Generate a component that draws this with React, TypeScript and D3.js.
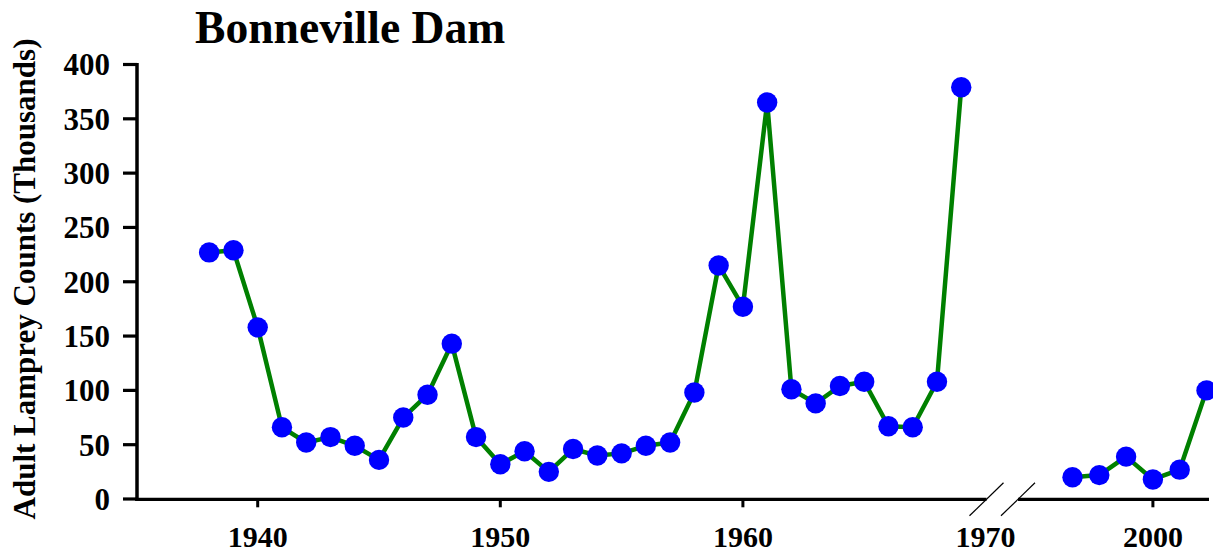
import React from "react";
import * as d3 from "d3";

const years1: number[] = [1938,1939,1940,1941,1942,1943,1944,1945,1946,1947,1948,1949,1950,1951,1952,1953,1954,1955,1956,1957,1958,1959,1960,1961,1962,1963,1964,1965,1966,1967,1968,1969];
const counts1: number[] = [227,229,158,66,52,57,49,36,75,96,143,57,32,44,25,46,40,42,49,52,98,215,177,365,101,88,104,108,67,66,108,379];
const years2: number[] = [1997,1998,1999,2000,2001,2002];
const counts2: number[] = [20,22,39,18,27,100];
const yTicks: number[] = [0,50,100,150,200,250,300,350,400];
const xTicks1: number[] = [1940,1950,1960];
const xLabels1: number[] = [1940,1950,1960,1970];
const xTicks2: number[] = [2000];

const W = 1213, H = 552;
const FONT = "'Liberation Serif', 'Times New Roman', serif";

export default function App() {
  const y = d3.scaleLinear().domain([0, 400]).range([499, 64.5]);
  const x1 = d3.scaleLinear().domain([1940, 1970]).range([257.7, 985.5]);
  const x2 = d3.scaleLinear().domain([1997, 2002]).range([1072.5, 1206.5]);

  const d1 = years1.map((yr, i) => ({ x: x1(yr), y: y(counts1[i]) }));
  const d2 = years2.map((yr, i) => ({ x: x2(yr), y: y(counts2[i]) }));
  const line = d3.line<{ x: number; y: number }>().x(d => d.x).y(d => d.y);

  const axisX = 137;
  const axisY = 499.3;
  const breakA = 986.5;
  const breakB = 1018;

  return (
    <svg width={W} height={H} style={{ position: "absolute", left: 0, top: 0, background: "#fff" }}>
      <text x={195} y={43} fontFamily={FONT} fontWeight="bold" fontSize={45.6} fill="#000">Bonneville Dam</text>
      <text transform={`translate(35,279) rotate(-90)`} textAnchor="middle" fontFamily={FONT} fontWeight="bold" fontSize={31} fill="#000">Adult Lamprey Counts (Thousands)</text>

      {/* y axis */}
      <line x1={axisX} x2={axisX} y1={63} y2={axisY + 1.6} stroke="#000" strokeWidth={3.5} />
      {yTicks.map(t => (
        <g key={t}>
          <line x1={123} x2={axisX} y1={y(t)} y2={y(t)} stroke="#000" strokeWidth={3.2} />
          <text x={110} y={y(t)} dy="0.35em" textAnchor="end" fontFamily={FONT} fontWeight="bold" fontSize={31} fill="#000">{t}</text>
        </g>
      ))}

      {/* x axis with break */}
      <line x1={axisX - 1.7} x2={breakA} y1={axisY} y2={axisY} stroke="#000" strokeWidth={3.3} />
      <line x1={breakB} x2={1209} y1={axisY} y2={axisY} stroke="#000" strokeWidth={3.3} />
      <line x1={breakA - 17} x2={breakA + 17} y1={axisY + 16.5} y2={axisY - 16.5} stroke="#000" strokeWidth={1.2} />
      <line x1={breakB - 17} x2={breakB + 17} y1={axisY + 16.5} y2={axisY - 16.5} stroke="#000" strokeWidth={1.2} />
      {xTicks1.map(t => (
        <line key={t} x1={x1(t)} x2={x1(t)} y1={axisY} y2={axisY + 8} stroke="#000" strokeWidth={3} />
      ))}
      {xTicks2.map(t => (
        <line key={t} x1={x2(t)} x2={x2(t)} y1={axisY} y2={axisY + 8} stroke="#000" strokeWidth={3} />
      ))}
      {xLabels1.map(t => (
        <text key={t} x={x1(t)} y={547} textAnchor="middle" fontFamily={FONT} fontWeight="bold" fontSize={30} fill="#000">{t}</text>
      ))}
      {xTicks2.map(t => (
        <text key={t} x={x2(t)} y={547} textAnchor="middle" fontFamily={FONT} fontWeight="bold" fontSize={30} fill="#000">{t}</text>
      ))}

      {/* data */}
      <path d={line(d1) || ""} fill="none" stroke="#008000" strokeWidth={4.5} strokeLinejoin="round" />
      <path d={line(d2) || ""} fill="none" stroke="#008000" strokeWidth={4.5} strokeLinejoin="round" />
      {d1.map((p, i) => <circle key={"a" + i} cx={p.x} cy={p.y} r={10.2} fill="#0000ff" />)}
      {d2.map((p, i) => <circle key={"b" + i} cx={p.x} cy={p.y} r={10.2} fill="#0000ff" />)}
    </svg>
  );
}
